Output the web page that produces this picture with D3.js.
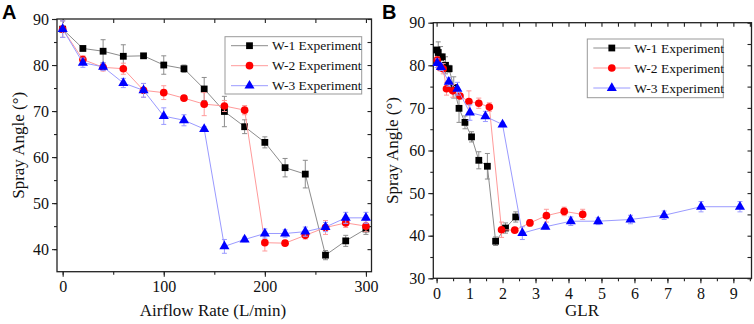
<!DOCTYPE html>
<html>
<head>
<meta charset="utf-8">
<script src="https://cdn.jsdelivr.net/npm/d3@7"></script>
<style>
  body { margin: 0; background: #fff; }
  svg text { font-family: "Liberation Serif", "Times New Roman", serif; }
  svg text.panel-label { font-family: "Liberation Sans", Arial, sans-serif; font-weight: bold; }
</style>
</head>
<body>
<div id="chart"></div>
<script>
// airflow rate (L/min) for panel A
const airflow = [0, 20, 40, 60, 80, 100, 120, 140, 160, 180, 200, 220, 240, 260, 280, 300];

// spray angle (deg), same measurements in both panels
const w1Angle = [87.8, 83.6, 83.0, 81.9, 82.0, 80.0, 79.2, 74.8, 69.9, 66.6, 63.2, 57.7, 56.3, 38.7, 41.8, 44.4];
const w2Angle = [87.8, 81.2, 79.5, 79.2, 74.5, 74.0, 72.8, 71.5, 71.1, 70.2, 41.4, 41.3, 43.0, 44.7, 45.7, 45.0];
const w3Angle = [87.8, 80.5, 79.6, 76.1, 74.5, 68.9, 68.0, 66.1, 40.6, 42.1, 43.4, 43.4, 43.8, 44.8, 46.8, 46.8];

const w1Err = [1.8, 0.5, 2.5, 2.5, 0.5, 2.0, 0.8, 2.5, 3.3, 1.5, 1.2, 2.0, 3.0, 1.0, 1.2, 1.2];
const w2Err = [1.8, 0.8, 0.8, 1.2, 1.5, 1.5, 0.5, 2.5, 1.2, 1.0, 1.8, 0.5, 0.8, 1.5, 1.0, 1.2];
const w3Err = [1.8, 1.0, 0.8, 1.0, 1.5, 1.8, 1.2, 0.5, 1.5, 0.5, 1.0, 0.8, 1.0, 1.0, 1.2, 1.2];

// GLR for panel B (airflow 20..300, the zero point is not shown)
const w1GLR = [0.0, 0.05, 0.12, 0.17, 0.27, 0.38, 0.52, 0.68, 0.86, 1.06, 1.28, 1.54, 1.79, 2.09, 2.4];
const w2GLR = [0.02, 0.11, 0.2, 0.3, 0.49, 0.71, 0.98, 1.28, 1.6, 1.97, 2.37, 2.83, 3.33, 3.87, 4.43];
const w3GLR = [0.02, 0.13, 0.37, 0.63, 1.01, 1.48, 2.0, 2.6, 3.3, 4.07, 4.9, 5.88, 6.9, 8.02, 9.2];

const seriesNames = ["W-1 Experiment", "W-2 Experiment", "W-3 Experiment"];

const STYLES = [
  { fill: "#000", line: "#8c8c8c", err: "#8c8c8c", shape: d3.symbolSquare, size: 46 },
  { fill: "#ff0000", line: "#ff9a9a", err: "#ff9a9a", shape: d3.symbolCircle, size: 46 },
  { fill: "#0000ff", line: "#9a9aff", err: "#9a9aff", shape: d3.symbolTriangle, size: 44 }
];

const svg = d3.select("#chart").append("svg")
  .attr("width", 754)
  .attr("height", 324);

function drawPanel(cfg) {
  const g = svg.append("g");
  const x = d3.scaleLinear().domain(cfg.xDomain).range([cfg.left, cfg.right]);
  const y = d3.scaleLinear().domain(cfg.yDomain).range([cfg.bottom, cfg.top]);

  // frame
  g.append("rect")
    .attr("x", cfg.left).attr("y", cfg.top)
    .attr("width", cfg.right - cfg.left).attr("height", cfg.bottom - cfg.top)
    .attr("fill", "none").attr("stroke", "#222").attr("stroke-width", 1.3);

  const tickStyle = sel => {
    sel.select(".domain").remove();
    sel.selectAll(".tick line").attr("stroke", "#222").attr("stroke-width", 1.1);
    sel.selectAll(".tick text").attr("font-size", 16).attr("fill", "#111");
  };

  // bottom: major + minor outward
  g.append("g").attr("transform", `translate(0,${cfg.bottom})`)
    .call(d3.axisBottom(x).tickValues(cfg.xMinor).tickSize(3).tickFormat(""))
    .call(tickStyle);
  g.append("g").attr("transform", `translate(0,${cfg.bottom})`)
    .call(d3.axisBottom(x).tickValues(cfg.xMajor).tickSize(5).tickPadding(4).tickFormat(d3.format("d")))
    .call(tickStyle);
  // left
  g.append("g").attr("transform", `translate(${cfg.left},0)`)
    .call(d3.axisLeft(y).tickValues(cfg.yMinor).tickSize(3).tickFormat(""))
    .call(tickStyle);
  g.append("g").attr("transform", `translate(${cfg.left},0)`)
    .call(d3.axisLeft(y).tickValues(cfg.yMajor).tickSize(5).tickPadding(3).tickFormat(d3.format("d")))
    .call(tickStyle);
  // top and right inward
  g.append("g").attr("transform", `translate(0,${cfg.top})`)
    .call(d3.axisTop(x).tickValues(cfg.xMinor).tickSize(-4).tickFormat(""))
    .call(tickStyle);
  g.append("g").attr("transform", `translate(${cfg.right},0)`)
    .call(d3.axisRight(y).tickValues(cfg.yMinor).tickSize(-4).tickFormat(""))
    .call(tickStyle);

  // titles
  g.append("text")
    .attr("x", cfg.xTitleX).attr("y", 316)
    .attr("text-anchor", "middle").attr("font-size", 17).attr("fill", "#111")
    .text(cfg.xTitle);
  g.append("text")
    .attr("transform", `translate(${cfg.yTitleX},${(cfg.top + cfg.bottom) / 2}) rotate(-90)`)
    .attr("text-anchor", "middle").attr("font-size", 17).attr("fill", "#111")
    .text("Spray Angle (°)");
  g.append("text")
    .attr("class", "panel-label")
    .attr("x", cfg.labelX).attr("y", 19)
    .attr("font-size", 20)
    .text(cfg.label);

  const plot = g.append("g");
  cfg.series.forEach((s, i) => {
    const st = STYLES[i];
    const pts = s.xs.map((v, j) => ({ x: v, y: s.ys[j], e: s.es[j] }));
    plot.append("path")
      .datum(pts)
      .attr("fill", "none").attr("stroke", st.line).attr("stroke-width", 1)
      .attr("d", d3.line().x(d => x(d.x)).y(d => y(d.y)));
    const eb = plot.append("g").attr("stroke", st.err).attr("stroke-width", 1);
    pts.forEach(d => {
      const cx = x(d.x);
      eb.append("line").attr("x1", cx).attr("x2", cx).attr("y1", y(d.y - d.e)).attr("y2", y(d.y + d.e));
      eb.append("line").attr("x1", cx - 2.5).attr("x2", cx + 2.5).attr("y1", y(d.y - d.e)).attr("y2", y(d.y - d.e));
      eb.append("line").attr("x1", cx - 2.5).attr("x2", cx + 2.5).attr("y1", y(d.y + d.e)).attr("y2", y(d.y + d.e));
    });
    plot.selectAll(null).data(pts).enter().append("path")
      .attr("transform", d => `translate(${x(d.x)},${y(d.y)})`)
      .attr("d", d3.symbol().type(st.shape).size(st.size))
      .attr("fill", st.fill);
  });

  // legend
  const lg = g.append("g");
  lg.append("rect")
    .attr("x", cfg.legend.x).attr("y", cfg.legend.y)
    .attr("width", cfg.legend.w).attr("height", cfg.legend.h)
    .attr("fill", "#fff").attr("stroke", "#999").attr("stroke-width", 1);
  seriesNames.forEach((name, i) => {
    const st = STYLES[i];
    const ry = cfg.legend.y + 9 + i * 20;
    const lx = cfg.legend.x + 6;
    lg.append("line").attr("x1", lx).attr("x2", lx + 37).attr("y1", ry).attr("y2", ry)
      .attr("stroke", st.line).attr("stroke-width", 1);
    lg.append("path").attr("transform", `translate(${lx + 18.5},${ry})`)
      .attr("d", d3.symbol().type(st.shape).size(st.size)).attr("fill", st.fill);
    lg.append("text").attr("x", lx + 41).attr("y", ry + 4.5)
      .attr("font-size", 13.5).attr("fill", "#111").text(name);
  });
}

drawPanel({
  label: "A", labelX: 2,
  left: 57, right: 371.5, top: 19, bottom: 271.7,
  xDomain: [-5.6, 305.5], yDomain: [35.1, 90],
  xMajor: [0, 100, 200, 300], xMinor: d3.range(0, 301, 50),
  yMajor: [40, 50, 60, 70, 80, 90], yMinor: d3.range(40, 91, 5),
  xTitle: "Airflow Rate (L/min)", xTitleX: 213, yTitleX: 24,
  legend: { x: 225, y: 36.7, w: 136.7, h: 57.3 },
  series: [
    { xs: airflow, ys: w1Angle, es: w1Err },
    { xs: airflow, ys: w2Angle, es: w2Err },
    { xs: airflow, ys: w3Angle, es: w3Err }
  ]
});

drawPanel({
  label: "B", labelX: 382,
  left: 433.3, right: 751.5, top: 22.7, bottom: 278.3,
  xDomain: [-0.1, 9.55], yDomain: [30, 90],
  xMajor: d3.range(0, 10, 1), xMinor: d3.range(0, 9.51, 0.5),
  yMajor: [30, 40, 50, 60, 70, 80, 90], yMinor: d3.range(30, 91, 5),
  xTitle: "GLR", xTitleX: 582, yTitleX: 398,
  legend: { x: 587.3, y: 39, w: 136, h: 58.7 },
  series: [
    { xs: w1GLR, ys: w1Angle.slice(1), es: w1Err.slice(1) },
    { xs: w2GLR, ys: w2Angle.slice(1), es: w2Err.slice(1) },
    { xs: w3GLR, ys: w3Angle.slice(1), es: w3Err.slice(1) }
  ]
});
</script>
</body>
</html>
